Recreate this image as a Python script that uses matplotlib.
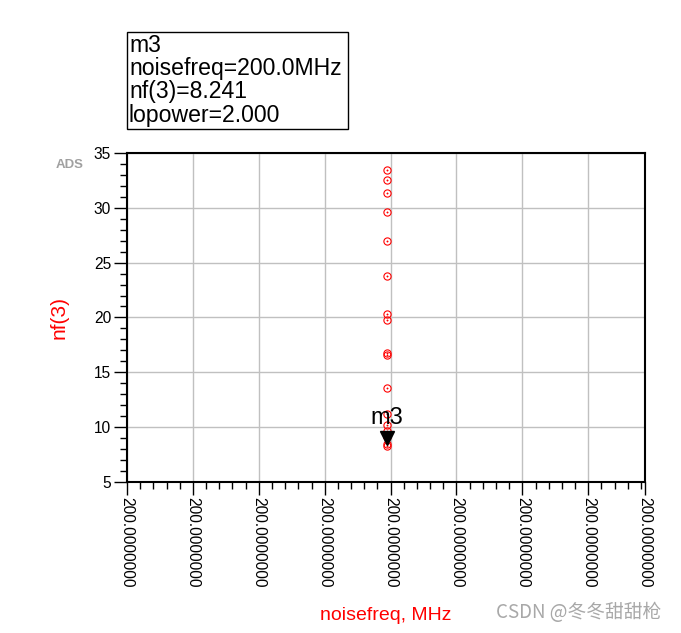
import matplotlib
matplotlib.use("Agg")
import matplotlib.pyplot as plt
from matplotlib.ticker import FixedLocator, FixedFormatter, MultipleLocator
from matplotlib.patches import Rectangle
from matplotlib.transforms import offset_copy

# ---- data ----
noisefreq_mhz = [200.0] * 17
nf3 = [33.51, 32.56, 31.37, 29.60, 26.98, 23.75, 20.27, 19.79, 16.73, 16.52,
       13.57, 11.19, 10.12, 9.60, 9.05, 8.45, 8.241]
marker_name = "m3"
marker_freq = 200.0
marker_nf = 8.241
marker_lopower = 2.000
x_tick_labels = ["200.0000000"] * 9
y_ticks = [5, 10, 15, 20, 25, 30, 35]

W, H = 681, 633
fig = plt.figure(figsize=(W / 100, H / 100), dpi=100)
plt.rcParams['font.family'] = ['Liberation Sans', 'DejaVu Sans']

ax = fig.add_axes([127 / W, 1 - 481.5 / H, (645 - 127) / W, (481.5 - 153.3) / H])

# x axis: all points at 200 MHz; tiny span around it
d = 1e-9
xmin = marker_freq - 3.941 * d
xmax = marker_freq + 3.920 * d
ax.set_xlim(xmin, xmax)
ax.set_ylim(5, 35)

xt = [xmin + k * d for k in range(8)] + [xmax]
ax.xaxis.set_major_locator(FixedLocator(xt))
ax.xaxis.set_major_formatter(FixedFormatter(x_tick_labels))
ax.xaxis.set_minor_locator(FixedLocator([xmin + k * d / 5 for k in range(40) if (xmin + k * d / 5) <= xmax]))
ax.yaxis.set_major_locator(FixedLocator(y_ticks))
ax.yaxis.set_minor_locator(MultipleLocator(1))

ax.grid(True, which='major', color='#c0c0c0', linewidth=1.0)
ax.set_axisbelow(True)
for s in ax.spines.values():
    s.set_color('black')
    s.set_linewidth(1.5)

ax.tick_params(axis='both', which='major', direction='out', length=9.5, width=1.0, color='black')
ax.tick_params(axis='both', which='minor', direction='out', length=5, width=1.0, color='black')
ax.tick_params(axis='x', which='major', labelsize=11.2, labelrotation=-90, pad=1.5)
ax.tick_params(axis='y', which='major', labelsize=11.2, pad=2)
for lab in ax.get_xticklabels():
    lab.set_va('top')
    lab.set_ha('center')

# data points: open red circles with a dot
ax.plot(noisefreq_mhz, nf3, linestyle='none', marker='o', markersize=5.2,
        markerfacecolor='none', markeredgecolor='red', markeredgewidth=0.8, clip_on=False)
ax.plot(noisefreq_mhz, nf3, linestyle='none', marker='o', markersize=1.0,
        markerfacecolor='red', markeredgecolor='red', markeredgewidth=0.3)

# marker triangle and label
tri_tr = offset_copy(ax.transData, fig=fig, x=0, y=6, units='points')
ax.plot([marker_freq], [marker_nf], marker='v', markersize=10, color='black',
        linestyle='none', transform=tri_tr)
lab_tr = offset_copy(ax.transData, fig=fig, x=0, y=12, units='points')
ax.text(marker_freq, marker_nf, marker_name, transform=lab_tr, ha='center', va='bottom',
        fontsize=17, color='black')

ax.set_ylabel("nf(3)", color='red', fontsize=15)
ax.yaxis.set_label_coords((69 - 127) / (645 - 127), 0.5)
fig.text(386 / W, 1 - 616 / H, "noisefreq, MHz", color='red', fontsize=14,
         ha='center', va='center')

# ADS label
fig.text(70 / W, 1 - 164.5 / H, "ADS", color='#a0a0a0', fontsize=9.5, fontweight='bold',
         ha='center', va='center')

# marker readout box
fig.patches.append(Rectangle((127.3 / W, 1 - 128.5 / H), (348 - 127.3) / W, (128.5 - 32.3) / H,
                             transform=fig.transFigure, fill=False, edgecolor='black',
                             linewidth=1.0))
lines = [marker_name,
         f"noisefreq={marker_freq:.1f}MHz",
         f"nf(3)={marker_nf:.3f}",
         f"lopower={marker_lopower:.3f}"]
for i, t in enumerate(lines):
    fig.text(129 / W, 1 - (51.7 + 23.3 * i) / H, t, fontsize=16.6, color='black',
             ha='left', va='baseline')

# watermark
fig.text(579 / W, 1 - 613 / H, "CSDN @冬冬甜甜枪", color='#a8a8a8', fontsize=13.5,
         ha='center', va='center', family=['Noto Sans CJK SC', 'DejaVu Sans'])

fig.savefig("out.png", dpi=100)
